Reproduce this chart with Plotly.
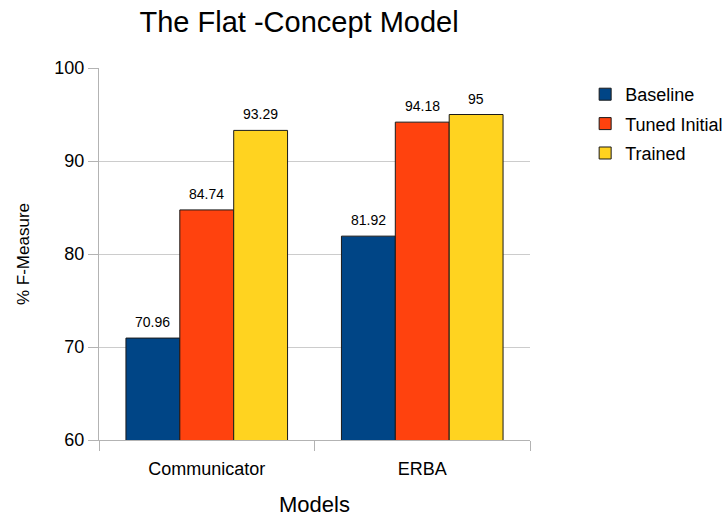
import plotly.graph_objects as go

categories = ["Communicator", "ERBA"]
series_names = ["Baseline", "Tuned Initial", "Trained"]
baseline = [70.96, 81.92]
tuned_initial = [84.74, 94.18]
trained = [93.29, 95]
y_ticks = [60, 70, 80, 90, 100]

colors = ["#004586", "#ff420e", "#ffd320"]
series_values = [baseline, tuned_initial, trained]

fig = go.Figure()
for name, vals, col in zip(series_names, series_values, colors):
    fig.add_trace(go.Bar(
        x=categories, y=vals, name=name, legendgroup=name,
        marker=dict(color=col, line=dict(color="#1a1a1a", width=1)),
    ))

# value labels above each bar, centred on the bar's slot within its group
n = len(series_names)
group_w = 0.75
for k, (name, vals) in enumerate(zip(series_names, series_values)):
    for ci, v in enumerate(vals):
        xpos = ci - group_w / 2 + group_w / n * (k + 0.5)
        fig.add_annotation(x=xpos, y=v, xref="x", yref="y", text=f"{v:g}",
                           showarrow=False, yanchor="bottom", yshift=6,
                           font=dict(size=14, color="#000000"))

fig.update_layout(
    width=726, height=517,
    margin=dict(l=99, r=196, t=68, b=77),
    paper_bgcolor="white", plot_bgcolor="white",
    font=dict(family="Liberation Sans, Arial, sans-serif", color="#000000", size=18),
    title=dict(text="The Flat -Concept Model", x=0.412, xanchor="center",
               y=0.957, yanchor="middle", font=dict(size=29)),
    barmode="group", bargap=0.25, bargroupgap=0,
    legend=dict(xref="container", yref="container", x=0.806, xanchor="left",
                y=0.853, yanchor="top",
                font=dict(size=18), traceorder="grouped", tracegroupgap=3,
                itemwidth=30),
    showlegend=True,
)
fig.update_xaxes(
    showline=True, linecolor="#b3b3b3", linewidth=1,
    ticks="outside", tickson="boundaries", ticklen=10, tickcolor="#b3b3b3",
    tickfont=dict(size=18), ticklabelstandoff=12,
    title=dict(text="Models", font=dict(size=22), standoff=20),
    showgrid=False, automargin=False,
)
fig.update_yaxes(
    range=[60, 100], tickvals=y_ticks, showline=True, linecolor="#b3b3b3", linewidth=1,
    ticks="outside", ticklen=10, tickcolor="#b3b3b3",
    gridcolor="#cccccc", gridwidth=1, tickfont=dict(size=18),
    title=dict(text="% F-Measure", font=dict(size=17), standoff=20),
    zeroline=False, automargin=False,
)

fig.write_html("out.html")
